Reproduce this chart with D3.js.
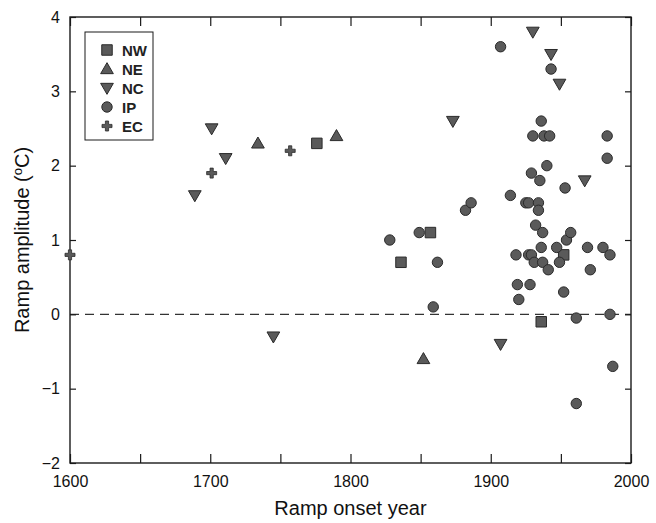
<!DOCTYPE html>
<html><head><meta charset="utf-8">
<script src="https://cdn.jsdelivr.net/npm/d3@7"></script>
<style>body{margin:0;background:#fff}svg{display:block}text{font-family:"Liberation Sans",Arial,sans-serif}</style>
</head><body><svg id="c" width="656" height="523"></svg>
<script>
const seriesNames = ["NW","NE","NC","IP","EC"];
const nwYears = [1776,1836,1857,1952,1936];
const nwValues = [2.3,0.7,1.1,0.8,-0.1];
const neYears = [1734,1790,1852];
const neValues = [2.3,2.4,-0.6];
const ncYears = [1689,1701,1711,1745,1873,1907,1930,1943,1949,1967];
const ncValues = [1.6,2.5,2.1,-0.3,2.6,-0.4,3.8,3.5,3.1,1.8];
const ipYears = [1828,1849,1859,1862,1882,1886,1907,1914,1918,1919,1920,1925,1927,1927,1928,1929,1929,1930,1931,1932,1934,1934,1935,1936,1936,1937,1937,1938,1940,1941,1942,1943,1947,1949,1952,1953,1954,1957,1961,1961,1969,1971,1980,1983,1983,1985,1985,1987];
const ipValues = [1.0,1.1,0.1,0.7,1.4,1.5,3.6,1.6,0.8,0.4,0.2,1.5,1.5,0.8,0.4,1.9,0.8,2.4,0.7,1.2,1.5,1.4,1.8,2.6,0.9,1.1,0.7,2.4,2.0,0.6,2.4,3.3,0.9,0.7,0.3,1.7,1.0,1.1,-0.05,-1.2,0.9,0.6,0.9,2.4,2.1,0.8,0.0,-0.7];
const ecYears = [1600,1701,1757];
const ecValues = [0.8,1.9,2.2];
const xTicks = [1600,1650,1700,1750,1800,1850,1900,1950,2000];
const xLabels = [1600,1700,1800,1900,2000];
const yTicks = [-2,-1,0,1,2,3,4];

const svg = d3.select("#c");
const L=70,R=631,T=17,B=463;
const x = d3.scaleLinear().domain([1600,2000]).range([L,R]);
const y = d3.scaleLinear().domain([-2,4]).range([B,T]);
const fill="#5a5a5a", stroke="#2a2a2a", axisCol="#1a1a1a";

svg.append("line").attr("x1",x(1600)).attr("x2",x(2000)).attr("y1",y(0)).attr("y2",y(0))
  .attr("stroke","#333").attr("stroke-width",1.2).attr("stroke-dasharray","9,6");

const fmt = d => xLabels.includes(d) ? d : "";
svg.append("g").attr("transform",`translate(0,${B})`)
  .call(d3.axisBottom(x).tickValues(xTicks).tickFormat(fmt).tickSizeInner(-9).tickSizeOuter(0).tickPadding(13));
svg.append("g").attr("transform",`translate(0,${T})`)
  .call(d3.axisTop(x).tickValues(xTicks).tickFormat("").tickSizeInner(-9).tickSizeOuter(0));
svg.append("g").attr("transform",`translate(${L},0)`)
  .call(d3.axisLeft(y).tickValues(yTicks).tickFormat(d3.format("d")).tickSizeInner(-6).tickSizeOuter(0).tickPadding(10));
svg.append("g").attr("transform",`translate(${R},0)`)
  .call(d3.axisRight(y).tickValues(yTicks).tickFormat("").tickSizeInner(-6).tickSizeOuter(0));
svg.selectAll(".domain").remove();
svg.selectAll(".tick line").attr("stroke",axisCol).attr("stroke-width",1.2);
svg.selectAll(".tick text").attr("font-size",16).attr("fill","#111").attr("font-family","Liberation Sans, Arial, sans-serif");
svg.append("rect").attr("x",L).attr("y",T).attr("width",R-L).attr("height",B-T)
  .attr("fill","none").attr("stroke",axisCol).attr("stroke-width",1.4);

const shapes = {
  NW: d3.symbol().type(d3.symbolSquare).size(110),
  NE: d3.symbol().type(d3.symbolTriangle).size(70),
  NC: d3.symbol().type(d3.symbolTriangle).size(70),
  IP: d3.symbol().type(d3.symbolCircle).size(85)
};
const rot = {NW:0,NE:0,NC:180,IP:0};
function drawMark(g,name,cx,cy){
  if(name==="EC"){
    return g.append("path").attr("transform",`translate(${cx},${cy})`)
      .attr("d","M-5,-1.6H-1.6V-5H1.6V-1.6H5V1.6H1.6V5H-1.6V1.6H-5Z")
      .attr("fill",fill).attr("stroke",stroke).attr("stroke-width",0.8);
  }
  const dy = name==="NE" ? 1 : (name==="NC" ? -1 : 0);
  return g.append("path").attr("transform",`translate(${cx},${cy+dy}) rotate(${rot[name]})`)
    .attr("d",shapes[name]()).attr("fill",fill).attr("stroke",stroke).attr("stroke-width",1);
}
const data = {
  NW: nwYears.map((d,i)=>[d,nwValues[i]]),
  NE: neYears.map((d,i)=>[d,neValues[i]]),
  NC: ncYears.map((d,i)=>[d,ncValues[i]]),
  IP: ipYears.map((d,i)=>[d,ipValues[i]]),
  EC: ecYears.map((d,i)=>[d,ecValues[i]])
};
const gm = svg.append("g");
["NW","NE","NC","IP","EC"].forEach(n=>{
  data[n].forEach(([a,b])=>drawMark(gm,n,x(a),y(b)));
});

const lg = svg.append("g");
lg.append("rect").attr("x",85).attr("y",32).attr("width",68).attr("height",108)
  .attr("fill","#fff").attr("stroke",axisCol).attr("stroke-width",1);
seriesNames.forEach((n,i)=>{
  const yy = 50 + i*19;
  drawMark(lg,n,107,yy);
  lg.append("text").attr("x",122).attr("y",yy+5.5).attr("font-size",15).attr("font-weight","bold")
    .attr("fill","#222").text(n);
});

svg.append("text").attr("x",(L+R)/2).attr("y",515).attr("text-anchor","middle")
  .attr("font-size",20).attr("fill","#111").text("Ramp onset year");
const yt = svg.append("text").attr("transform",`translate(29,${(T+B)/2}) rotate(-90)`)
  .attr("text-anchor","middle").attr("font-size",20).attr("fill","#111");
yt.append("tspan").text("Ramp amplitude (");
yt.append("tspan").attr("dy",-7).attr("font-size",13).text("o");
yt.append("tspan").attr("dy",7).text("C)");
</script></body></html>
